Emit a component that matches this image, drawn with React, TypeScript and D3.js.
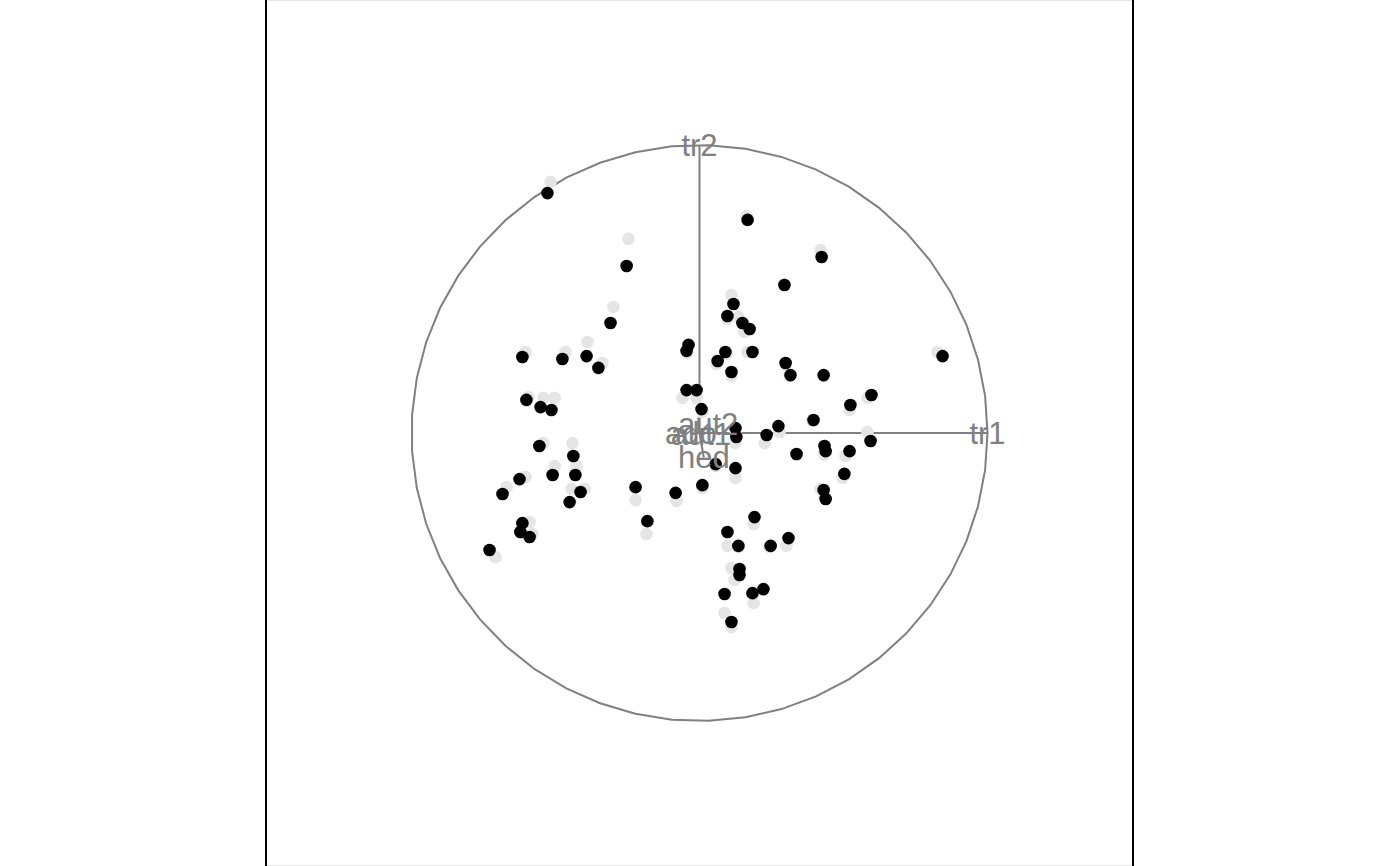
import React, { useEffect, useRef } from 'react';
import * as d3 from 'd3';

// current projection (black) and previous frame (light grey), in projection units
const currentX = [
  -0.528, 0.167, 0.424, -0.253, 0.295, 0.118, 0.097, -0.309, 0.149, 0.174,
  -0.038, -0.045, 0.09, 0.184, -0.615, -0.476, -0.392, 0.844, 0.063, 0.299,
  -0.351, 0.111, 0.316, 0.431, -0.045, -0.01, 0.597, -0.601, -0.552, -0.514,
  0.524, 0.007, 0.396, 0.274, 0.125, 0.128, 0.233, 0.594, -0.556, 0.434,
  0.438, 0.521, 0.337, -0.438, 0.056, 0.125, -0.51, -0.431, 0.503, -0.625,
  0.01, -0.222, -0.413, -0.083, 0.431, -0.684, 0.438, -0.451, 0.191, -0.181,
  -0.615, -0.622, -0.59, 0.097, 0.309, 0.135, 0.247, 0.139, 0.139, -0.729,
  0.087, 0.184, 0.222, 0.111,
];
const currentY = [
  0.833, 0.74, 0.611, 0.58, 0.514, 0.448, 0.406, 0.382, 0.382, 0.361,
  0.306, 0.285, 0.281, 0.281, 0.264, 0.257, 0.267, 0.267, 0.25, 0.243,
  0.226, 0.212, 0.201, 0.201, 0.149, 0.149, 0.132, 0.115, 0.09, 0.08,
  0.097, 0.083, 0.045, 0.024, 0.017, -0.014, -0.007, -0.028, -0.045, -0.045,
  -0.063, -0.063, -0.073, -0.08, -0.108, -0.122, -0.146, -0.146, -0.142, -0.16,
  -0.181, -0.188, -0.205, -0.208, -0.198, -0.212, -0.229, -0.24, -0.292, -0.306,
  -0.313, -0.344, -0.361, -0.344, -0.365, -0.392, -0.392, -0.472, -0.493, -0.406,
  -0.559, -0.556, -0.542, -0.656,
];
const previousX = [
  -0.517, 0.163, 0.42, -0.247, 0.292, 0.111, 0.097, -0.299, 0.135, 0.156,
  -0.038, -0.042, 0.094, 0.167, -0.604, -0.465, -0.389, 0.826, 0.059, 0.299,
  -0.337, 0.111, 0.313, 0.431, -0.059, -0.01, 0.583, -0.594, -0.542, -0.503,
  0.521, 0.01, 0.392, 0.278, 0.125, 0.125, 0.226, 0.583, -0.542, 0.434,
  0.434, 0.507, 0.337, -0.441, 0.056, 0.125, -0.503, -0.427, 0.497, -0.604,
  0.01, -0.222, -0.399, -0.08, 0.42, -0.67, 0.434, -0.444, 0.188, -0.184,
  -0.59, -0.615, -0.58, 0.097, 0.302, 0.135, 0.243, 0.111, 0.122, -0.708,
  0.087, 0.188, 0.222, 0.111,
];
const previousY = [
  0.872, 0.753, 0.635, 0.674, 0.517, 0.479, 0.396, 0.438, 0.403, 0.351,
  0.302, 0.278, 0.274, 0.281, 0.281, 0.281, 0.316, 0.281, 0.24, 0.236,
  0.243, 0.198, 0.198, 0.198, 0.122, 0.122, 0.122, 0.125, 0.122, 0.122,
  0.08, 0.073, 0.042, 0.003, 0.003, -0.035, -0.035, 0.003, -0.035, -0.066,
  -0.076, -0.08, -0.076, -0.035, -0.115, -0.156, -0.115, -0.115, -0.156, -0.153,
  -0.191, -0.233, -0.194, -0.236, -0.194, -0.188, -0.222, -0.194, -0.316, -0.351,
  -0.309, -0.347, -0.351, -0.392, -0.392, -0.396, -0.396, -0.469, -0.51, -0.431,
  -0.625, -0.59, -0.545, -0.674,
];

// projection axes (variable contributions)
const axisNames = ['tr1', 'tr2', 'aut2', 'ado', 'aut1', 'hed'];
const axisX = [1, 0, 0.03, -0.03, 0.005, 0.015];
const axisY = [0, 1, 0.03, -0.003, -0.005, -0.085];

const GREY = '#808080';

export default function App() {
  const svgRef = useRef<SVGSVGElement>(null);

  useEffect(() => {
    const svg = d3.select(svgRef.current);
    const width = 1400;
    const height = 866;
    svg.selectAll('*').remove();

    const panelLeft = 266;
    const panelRight = 1133;
    const cx = (panelLeft + panelRight) / 2;
    const cy = 433;
    const radius = 288;

    const x = d3.scaleLinear().domain([-1, 1]).range([cx - radius, cx + radius]);
    const y = d3.scaleLinear().domain([-1, 1]).range([cy + radius, cy - radius]);

    svg.attr('width', width).attr('height', height);
    svg.append('rect').attr('width', width).attr('height', height).attr('fill', '#fff');

    // panel border
    svg.append('line')
      .attr('x1', panelLeft).attr('x2', panelRight).attr('y1', 0.5).attr('y2', 0.5)
      .attr('stroke', '#e5e5e5');
    svg.append('line')
      .attr('x1', panelLeft).attr('x2', panelRight).attr('y1', height - 0.5).attr('y2', height - 0.5)
      .attr('stroke', '#e5e5e5');
    [panelLeft, panelRight].forEach((px) => {
      svg.append('line')
        .attr('x1', px).attr('x2', px).attr('y1', 0).attr('y2', height)
        .attr('stroke', '#000').attr('stroke-width', 2);
    });

    // circle drawn as a polygon, like R's seq(0, 2*pi, length = 50)
    const theta = d3.range(50).map((i) => (i * 2 * Math.PI) / 49);
    const circleLine = d3.line<number>()
      .x((t) => x(Math.cos(t)))
      .y((t) => y(Math.sin(t)));
    svg.append('path')
      .attr('d', circleLine(theta))
      .attr('fill', 'none')
      .attr('stroke', GREY)
      .attr('stroke-width', 2);

    // axis segments
    axisNames.forEach((name, i) => {
      svg.append('line')
        .attr('x1', x(0)).attr('y1', y(0))
        .attr('x2', x(axisX[i])).attr('y2', y(axisY[i]))
        .attr('stroke', GREY)
        .attr('stroke-width', 2);
    });

    // previous frame points
    previousX.forEach((px, i) => {
      svg.append('circle')
        .attr('cx', x(px)).attr('cy', y(previousY[i]))
        .attr('r', 6.3).attr('fill', '#e5e5e5');
    });

    // current points
    currentX.forEach((px, i) => {
      svg.append('circle')
        .attr('cx', x(px)).attr('cy', y(currentY[i]))
        .attr('r', 6.3).attr('fill', '#000');
    });

    // axis labels
    axisNames.forEach((name, i) => {
      svg.append('text')
        .attr('x', x(axisX[i]))
        .attr('y', y(axisY[i]))
        .attr('text-anchor', 'middle')
        .attr('dominant-baseline', 'central')
        .attr('font-family', 'Liberation Sans, Arial, sans-serif')
        .attr('font-size', 31)
        .attr('fill', GREY)
        .text(name);
    });
  }, []);

  return (
    <div style={{ position: 'absolute', left: 0, top: 0 }}>
      <svg ref={svgRef} style={{ display: 'block' }} />
    </div>
  );
}
